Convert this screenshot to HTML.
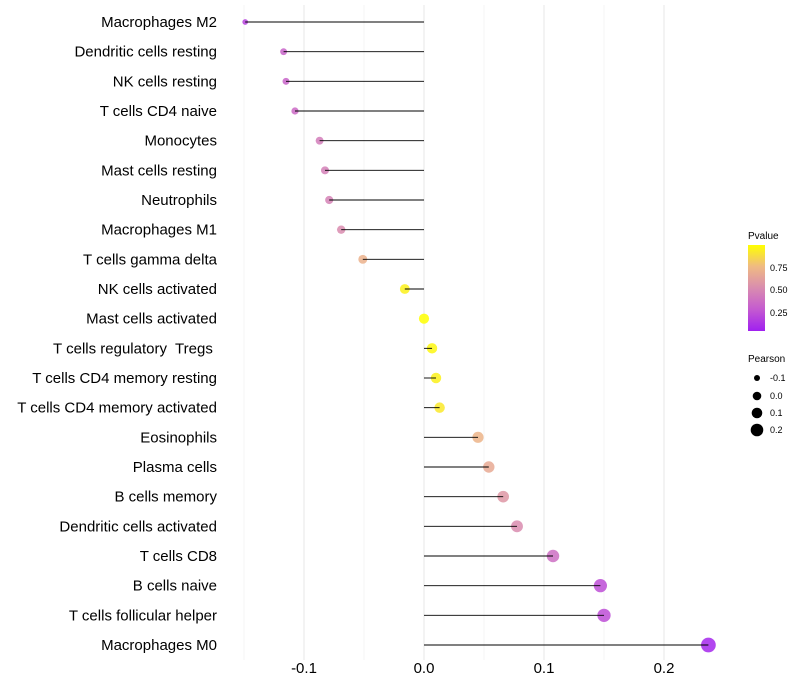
<!DOCTYPE html>
<html><head><meta charset="utf-8"><style>
body{margin:0;background:#fff;}
svg{display:block;font-family:"Liberation Sans",sans-serif;}
text{white-space:pre;}
</style></head><body>
<svg id="chart" width="800" height="700">
<defs>
<linearGradient id="pg" x1="0" y1="1" x2="0" y2="0">
<stop offset="0" stop-color="#a020f0"/><stop offset="0.25" stop-color="#c45ad0"/>
<stop offset="0.5" stop-color="#d98caf"/><stop offset="0.75" stop-color="#efba83"/>
<stop offset="1" stop-color="#ffff00"/></linearGradient>
</defs>
<g id="grid"></g>
<g id="marks"></g>
<g id="labels"></g>
<g id="ticks"></g>
<g font-size="10">
<text x="748" y="239">Pvalue</text>
<rect x="748" y="245" width="17" height="86" fill="url(#pg)"/>
<text x="770" y="271" font-size="9">0.75</text>
<text x="770" y="293" font-size="9">0.50</text>
<text x="770" y="316" font-size="9">0.25</text>
</g>
<g font-size="9">
<text x="748" y="362" font-size="10">Pearson</text>
<circle cx="757" cy="378" r="3"/><text x="770" y="381">-0.1</text>
<circle cx="757" cy="396" r="4.3"/><text x="770" y="399">0.0</text>
<circle cx="757" cy="413" r="5.3"/><text x="770" y="416">0.1</text>
<circle cx="757" cy="430" r="6.3"/><text x="770" y="433">0.2</text>
</g>
</svg>
<script>
const categories=["Macrophages M2","Dendritic cells resting","NK cells resting","T cells CD4 naive","Monocytes","Mast cells resting","Neutrophils","Macrophages M1","T cells gamma delta","NK cells activated","Mast cells activated","T cells regulatory  Tregs ","T cells CD4 memory resting","T cells CD4 memory activated","Eosinophils","Plasma cells","B cells memory","Dendritic cells activated","T cells CD8","B cells naive","T cells follicular helper","Macrophages M0"];
const pearson=[-0.149,-0.117,-0.115,-0.1075,-0.087,-0.0825,-0.079,-0.069,-0.051,-0.016,0.0,0.0067,0.010,0.013,0.045,0.054,0.066,0.0775,0.1075,0.147,0.150,0.237];
const pvalues=[0.15,0.3,0.3,0.33,0.42,0.44,0.45,0.5,0.7,0.95,1.0,0.97,0.95,0.92,0.72,0.66,0.56,0.5,0.35,0.2,0.2,0.03];
const xTicks=[-0.1,0.0,0.1,0.2];
const xTickLabels=["-0.1","0.0","0.1","0.2"];
const NS="http://www.w3.org/2000/svg";
const x=v=>424+v*1200;
const y=i=>22+i*(623/21);
const rad=v=>Math.sqrt(Math.max(4,26+120*v));
const stops=[[0,[160,32,240]],[0.25,[196,90,208]],[0.5,[217,140,175]],[0.75,[239,186,131]],[1,[255,255,0]]];
function col(p){for(let k=1;k<stops.length;k++){if(p<=stops[k][0]){const a=stops[k-1],b=stops[k],t=(p-a[0])/(b[0]-a[0]);return 'rgb('+a[1].map((c,j)=>Math.round(c+(b[1][j]-c)*t)).join(',')+')';}}return 'rgb(255,255,0)';}
function mk(t,at,parent){const e=document.createElementNS(NS,t);for(const k in at)e.setAttribute(k,at[k]);parent.appendChild(e);return e;}
const grid=document.getElementById('grid'),marks=document.getElementById('marks'),labels=document.getElementById('labels'),ticks=document.getElementById('ticks');
for(let g=-0.15;g<=0.201;g+=0.05){const major=Math.abs(Math.round(g*20)%2)===0;
const l=mk('line',{x1:x(g),x2:x(g),y1:5,y2:660,stroke:major?'#ebebeb':'#f4f4f4','stroke-width':major?1.2:0.8},grid);

}
categories.forEach((c,i)=>{
const pt=mk('circle',{cx:x(pearson[i]),cy:y(i),r:rad(pearson[i]),fill:col(pvalues[i]),'fill-opacity':0.85},marks);


const ln=mk('line',{x1:x(0),x2:x(pearson[i]),y1:y(i),y2:y(i),stroke:'#000','stroke-width':0.9},marks);


const t=mk('text',{x:217,y:y(i)+5,'text-anchor':'end','font-size':15,fill:'#000'},labels);
t.textContent=c;


});
xTicks.forEach((v,i)=>{const t=mk('text',{x:x(v),y:673,'text-anchor':'middle','font-size':15,fill:'#000'},ticks);
t.textContent=xTickLabels[i];

});
</script>
</body></html>
